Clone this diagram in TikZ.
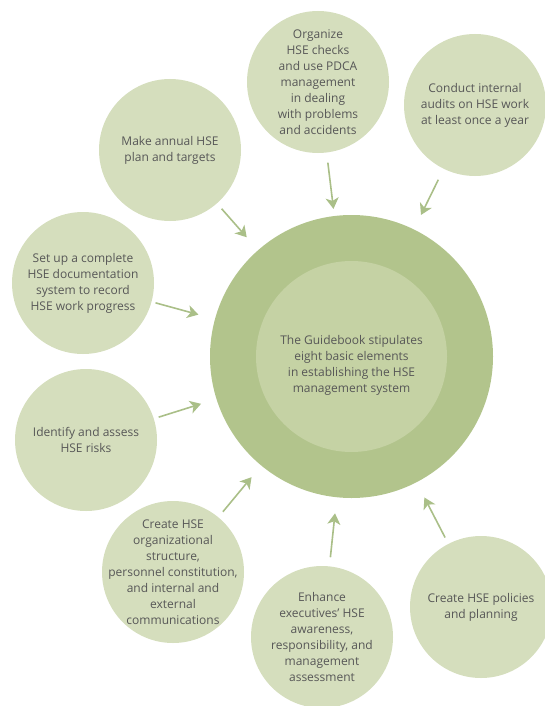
\documentclass[tikz,border=0pt]{standalone}
\usepackage{fontspec}
\setmainfont{Open Sans}
\usetikzlibrary{arrows.meta}

\definecolor{sage}{HTML}{D5DEBD}
\definecolor{coreouter}{HTML}{B2C48C}
\definecolor{coreinner}{HTML}{C5D2A4}
\definecolor{arrowgreen}{HTML}{AABF88}
\definecolor{inkgray}{HTML}{575757}

\begin{document}
\begin{tikzpicture}[
    x=1pt, y=-1pt,
    >={Stealth[length=11pt,width=13pt,inset=3pt]},
    bubble/.style={circle, fill=sage, minimum size=142pt, inner sep=0pt},
    txt/.style={align=center, text=inkgray, font=\fontsize{12}{16}\selectfont},
    flow/.style={draw=arrowgreen, line width=1.6pt, ->}
  ]
  \useasboundingbox (0,0) rectangle (545,706);

  % central element
  \node[circle, fill=coreouter, minimum size=283pt, inner sep=0pt] (core) at (351.5,356.5) {};
  \node[circle, fill=coreinner, minimum size=191pt, inner sep=0pt] (inner) at (core) {};
  \node[txt] (guide) at (351.5,365) {The Guidebook stipulates\\eight basic elements\\in establishing the HSE\\management system};

  % the eight elements
  \node[bubble, label={[txt]center:Make annual HSE\\plan and targets}] (plan) at (170,150) {};
  \node[bubble, label={[txt]center:Organize\\HSE checks\\and use PDCA\\management\\in dealing\\with problems\\and accidents}] (check) at (318,82) {};
  \node[bubble, label={[txt]center:Conduct internal\\audits on HSE work\\at least once a year}] (audit) at (475,105) {};
  \node[bubble, label={[txt]center:Set up a complete\\HSE documentation\\system to record\\HSE work progress}] (docs) at (83,283) {};
  \node[bubble, label={[txt]center:Identify and assess\\HSE risks}] (risk) at (86,440) {};
  \node[bubble, label={[txt]center:Create HSE\\organizational\\structure,\\personnel constitution,\\and internal and\\external\\communications}] (org) at (173,572) {};
  \node[bubble, label={[txt]center:Enhance\\executives’ HSE\\awareness,\\responsibility, and\\management\\assessment}] (aware) at (322,637) {};
  \node[bubble, label={[txt]center:Create HSE policies\\and planning}] (policy) at (481,607) {};

  % arrows into the core
  \foreach \from/\s/\e in {plan/7/17, check/10/7, audit/12/16, docs/4/17,
                           risk/5/16, org/7/15, aware/9/16, policy/7/17}
    \draw[flow, shorten <=\s pt, shorten >=\e pt] (\from) -- (core);
\end{tikzpicture}
\end{document}
